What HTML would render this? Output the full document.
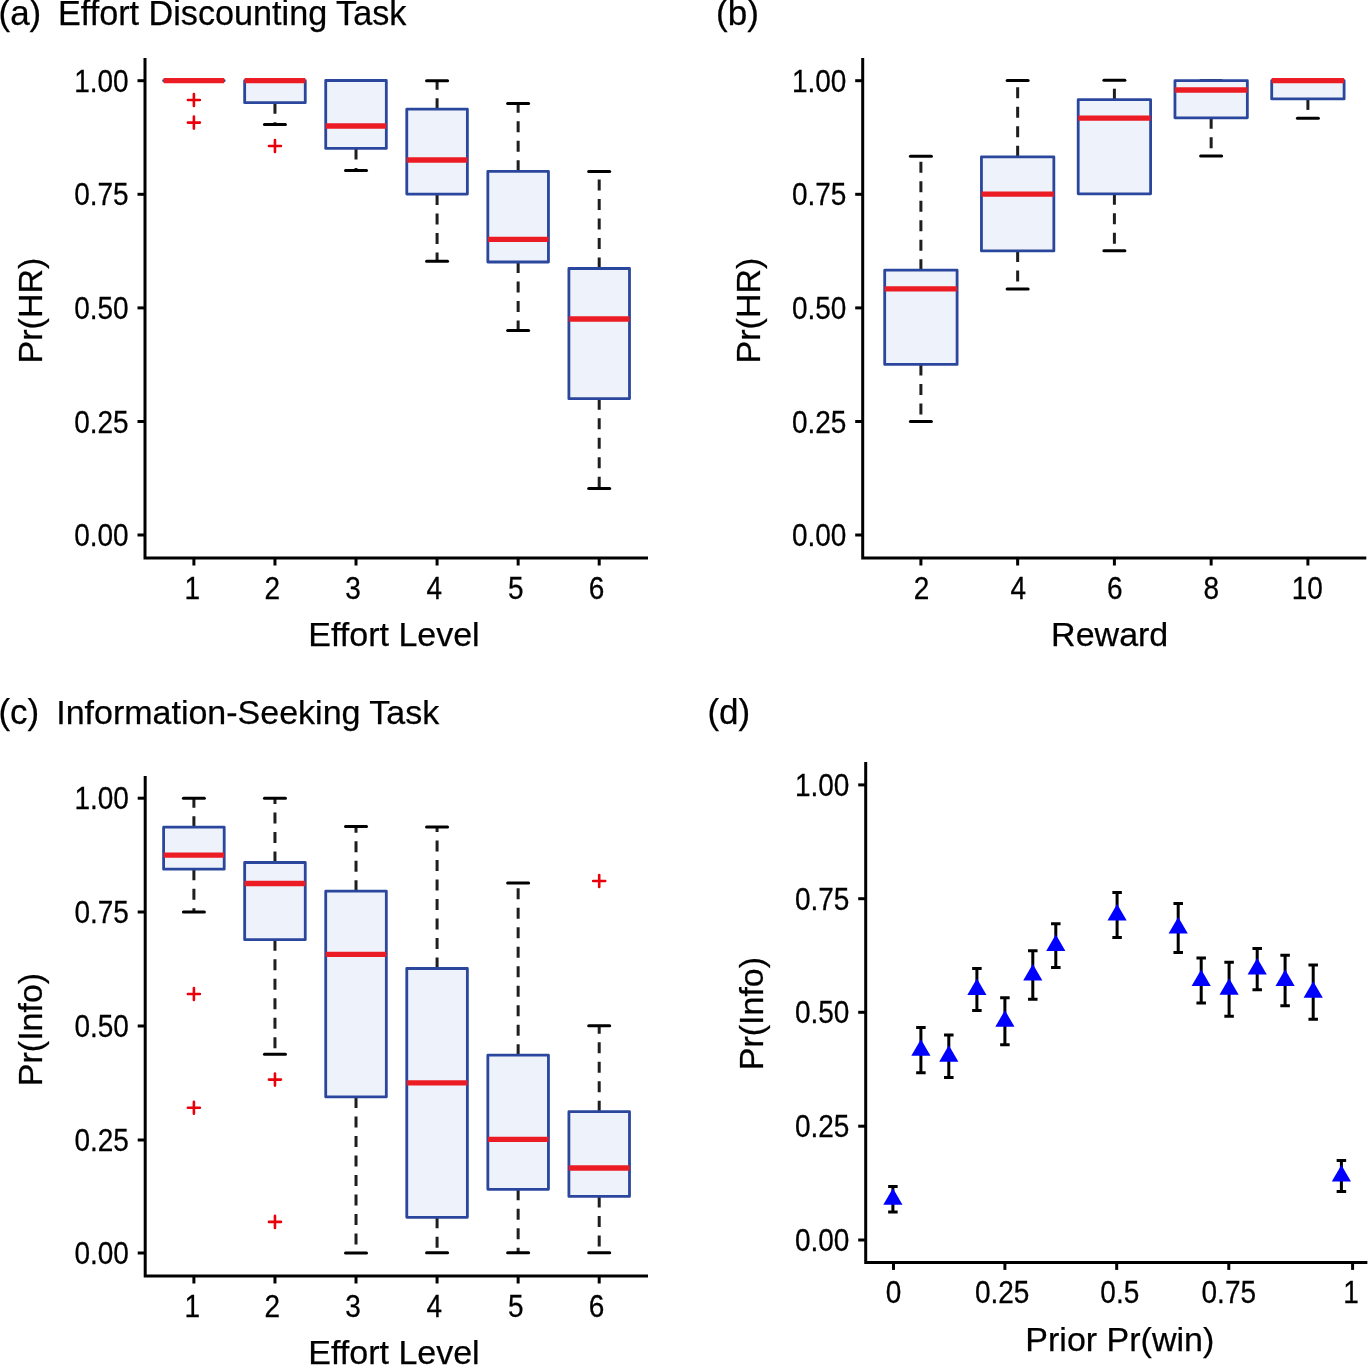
<!DOCTYPE html>
<html><head><meta charset="utf-8"><style>html,body{margin:0;-webkit-font-smoothing:antialiased;padding:0;background:#fff;}body{width:1369px;height:1365px;overflow:hidden;}</style></head>
<body>
<svg width="1369" height="1365" viewBox="0 0 1369 1365" font-family="Liberation Sans, sans-serif" style="display:block;-webkit-font-smoothing:antialiased;will-change:transform">
<rect width="1369" height="1365" fill="#fff"/>
<style>text{stroke:#000;stroke-width:0.25px}</style>
<path d="M145 58 V558 H648" fill="none" stroke="#000" stroke-width="3"/>
<line x1="137.5" y1="80.7" x2="145" y2="80.7" stroke="#000" stroke-width="3"/>
<line x1="137.5" y1="194.3" x2="145" y2="194.3" stroke="#000" stroke-width="3"/>
<line x1="137.5" y1="307.9" x2="145" y2="307.9" stroke="#000" stroke-width="3"/>
<line x1="137.5" y1="421.5" x2="145" y2="421.5" stroke="#000" stroke-width="3"/>
<line x1="137.5" y1="535" x2="145" y2="535" stroke="#000" stroke-width="3"/>
<line x1="193.9" y1="558" x2="193.9" y2="565.5" stroke="#000" stroke-width="3"/>
<line x1="274.96000000000004" y1="558" x2="274.96000000000004" y2="565.5" stroke="#000" stroke-width="3"/>
<line x1="356.02" y1="558" x2="356.02" y2="565.5" stroke="#000" stroke-width="3"/>
<line x1="437.08000000000004" y1="558" x2="437.08000000000004" y2="565.5" stroke="#000" stroke-width="3"/>
<line x1="518.14" y1="558" x2="518.14" y2="565.5" stroke="#000" stroke-width="3"/>
<line x1="599.2" y1="558" x2="599.2" y2="565.5" stroke="#000" stroke-width="3"/>
<text x="128.7" y="91.0" text-anchor="end" font-size="28" transform="translate(0 81.5) scale(1 1.09) translate(0 -81.5)">1.00</text>
<text x="128.7" y="204.60000000000002" text-anchor="end" font-size="28" transform="translate(0 195.10000000000002) scale(1 1.09) translate(0 -195.10000000000002)">0.75</text>
<text x="128.7" y="318.2" text-anchor="end" font-size="28" transform="translate(0 308.7) scale(1 1.09) translate(0 -308.7)">0.50</text>
<text x="128.7" y="431.8" text-anchor="end" font-size="28" transform="translate(0 422.3) scale(1 1.09) translate(0 -422.3)">0.25</text>
<text x="128.7" y="545.3" text-anchor="end" font-size="28" transform="translate(0 535.8) scale(1 1.09) translate(0 -535.8)">0.00</text>
<text x="192.4" y="598.1" text-anchor="middle" font-size="28" transform="translate(0 588.6) scale(1 1.09) translate(0 -588.6)">1</text>
<text x="272.26000000000005" y="598.1" text-anchor="middle" font-size="28" transform="translate(0 588.6) scale(1 1.09) translate(0 -588.6)">2</text>
<text x="353.02" y="598.1" text-anchor="middle" font-size="28" transform="translate(0 588.6) scale(1 1.09) translate(0 -588.6)">3</text>
<text x="434.38000000000005" y="598.1" text-anchor="middle" font-size="28" transform="translate(0 588.6) scale(1 1.09) translate(0 -588.6)">4</text>
<text x="515.84" y="598.1" text-anchor="middle" font-size="28" transform="translate(0 588.6) scale(1 1.09) translate(0 -588.6)">5</text>
<text x="596.5" y="598.1" text-anchor="middle" font-size="28" transform="translate(0 588.6) scale(1 1.09) translate(0 -588.6)">6</text>
<line x1="183.4" y1="80.7" x2="204.4" y2="80.7" stroke="#000" stroke-width="3" stroke-linecap="round"/>
<line x1="183.4" y1="80.7" x2="204.4" y2="80.7" stroke="#000" stroke-width="3" stroke-linecap="round"/>
<rect x="163.6" y="80.7" width="60.6" height="0.01" fill="#eef2fa" stroke="#2a479d" stroke-width="2.8" stroke-linejoin="round"/>
<line x1="163.6" y1="80.7" x2="224.20000000000002" y2="80.7" stroke="#ec1c24" stroke-width="5.3"/>
<path d="M187.9 100.06H199.9M193.9 94.06V106.06" stroke="#e8000b" stroke-width="2.6" stroke-linecap="round" fill="none"/>
<path d="M187.9 122.6H199.9M193.9 116.6V128.6" stroke="#e8000b" stroke-width="2.6" stroke-linecap="round" fill="none"/>
<line x1="274.96000000000004" y1="102.7" x2="274.96000000000004" y2="124.6" stroke="#1e1e1e" stroke-width="3" stroke-dasharray="11 8.5"/>
<line x1="264.46000000000004" y1="80.7" x2="285.46000000000004" y2="80.7" stroke="#000" stroke-width="3" stroke-linecap="round"/>
<line x1="264.46000000000004" y1="124.6" x2="285.46000000000004" y2="124.6" stroke="#000" stroke-width="3" stroke-linecap="round"/>
<rect x="244.66000000000003" y="80.7" width="60.6" height="22.0" fill="#eef2fa" stroke="#2a479d" stroke-width="2.8" stroke-linejoin="round"/>
<line x1="244.66000000000003" y1="80.7" x2="305.26000000000005" y2="80.7" stroke="#ec1c24" stroke-width="5.3"/>
<path d="M268.96000000000004 146H280.96000000000004M274.96000000000004 140V152" stroke="#e8000b" stroke-width="2.6" stroke-linecap="round" fill="none"/>
<line x1="356.02" y1="148.4" x2="356.02" y2="170.5" stroke="#1e1e1e" stroke-width="3" stroke-dasharray="11 8.5"/>
<line x1="345.52" y1="80.7" x2="366.52" y2="80.7" stroke="#000" stroke-width="3" stroke-linecap="round"/>
<line x1="345.52" y1="170.5" x2="366.52" y2="170.5" stroke="#000" stroke-width="3" stroke-linecap="round"/>
<rect x="325.71999999999997" y="80.5" width="60.6" height="67.9" fill="#eef2fa" stroke="#2a479d" stroke-width="2.8" stroke-linejoin="round"/>
<line x1="325.71999999999997" y1="126" x2="386.32" y2="126" stroke="#ec1c24" stroke-width="5.3"/>
<line x1="437.08000000000004" y1="194.1" x2="437.08000000000004" y2="261.2" stroke="#1e1e1e" stroke-width="3" stroke-dasharray="11 8.5"/>
<line x1="437.08000000000004" y1="109.2" x2="437.08000000000004" y2="80.7" stroke="#1e1e1e" stroke-width="3" stroke-dasharray="11 8.5"/>
<line x1="426.58000000000004" y1="80.7" x2="447.58000000000004" y2="80.7" stroke="#000" stroke-width="3" stroke-linecap="round"/>
<line x1="426.58000000000004" y1="261.2" x2="447.58000000000004" y2="261.2" stroke="#000" stroke-width="3" stroke-linecap="round"/>
<rect x="406.78000000000003" y="109.2" width="60.6" height="84.89999999999999" fill="#eef2fa" stroke="#2a479d" stroke-width="2.8" stroke-linejoin="round"/>
<line x1="406.78000000000003" y1="160" x2="467.38000000000005" y2="160" stroke="#ec1c24" stroke-width="5.3"/>
<line x1="518.14" y1="262" x2="518.14" y2="330.4" stroke="#1e1e1e" stroke-width="3" stroke-dasharray="11 8.5"/>
<line x1="518.14" y1="171.3" x2="518.14" y2="103.4" stroke="#1e1e1e" stroke-width="3" stroke-dasharray="11 8.5"/>
<line x1="507.64" y1="103.4" x2="528.64" y2="103.4" stroke="#000" stroke-width="3" stroke-linecap="round"/>
<line x1="507.64" y1="330.4" x2="528.64" y2="330.4" stroke="#000" stroke-width="3" stroke-linecap="round"/>
<rect x="487.84" y="171.3" width="60.6" height="90.69999999999999" fill="#eef2fa" stroke="#2a479d" stroke-width="2.8" stroke-linejoin="round"/>
<line x1="487.84" y1="239.4" x2="548.4399999999999" y2="239.4" stroke="#ec1c24" stroke-width="5.3"/>
<line x1="599.2" y1="398.7" x2="599.2" y2="488.5" stroke="#1e1e1e" stroke-width="3" stroke-dasharray="11 8.5"/>
<line x1="599.2" y1="268.5" x2="599.2" y2="171.4" stroke="#1e1e1e" stroke-width="3" stroke-dasharray="11 8.5"/>
<line x1="588.7" y1="171.4" x2="609.7" y2="171.4" stroke="#000" stroke-width="3" stroke-linecap="round"/>
<line x1="588.7" y1="488.5" x2="609.7" y2="488.5" stroke="#000" stroke-width="3" stroke-linecap="round"/>
<rect x="568.9000000000001" y="268.5" width="60.6" height="130.2" fill="#eef2fa" stroke="#2a479d" stroke-width="2.8" stroke-linejoin="round"/>
<line x1="568.9000000000001" y1="319" x2="629.5" y2="319" stroke="#ec1c24" stroke-width="5.3"/>
<text x="394" y="646" text-anchor="middle" font-size="34">Effort Level</text>
<text transform="translate(42.3,310.5) rotate(-90)" text-anchor="middle" font-size="34">Pr(HR)</text>
<text x="-1.5" y="25" font-size="35">(a)</text><text x="58" y="25" font-size="34.2">Effort Discounting Task</text>
<path d="M862.7 58 V558 H1366.3" fill="none" stroke="#000" stroke-width="3"/>
<line x1="855.2" y1="80.7" x2="862.7" y2="80.7" stroke="#000" stroke-width="3"/>
<line x1="855.2" y1="194.3" x2="862.7" y2="194.3" stroke="#000" stroke-width="3"/>
<line x1="855.2" y1="307.9" x2="862.7" y2="307.9" stroke="#000" stroke-width="3"/>
<line x1="855.2" y1="421.5" x2="862.7" y2="421.5" stroke="#000" stroke-width="3"/>
<line x1="855.2" y1="535" x2="862.7" y2="535" stroke="#000" stroke-width="3"/>
<line x1="920.9" y1="558" x2="920.9" y2="565.5" stroke="#000" stroke-width="3"/>
<line x1="1017.65" y1="558" x2="1017.65" y2="565.5" stroke="#000" stroke-width="3"/>
<line x1="1114.4" y1="558" x2="1114.4" y2="565.5" stroke="#000" stroke-width="3"/>
<line x1="1211.15" y1="558" x2="1211.15" y2="565.5" stroke="#000" stroke-width="3"/>
<line x1="1307.9" y1="558" x2="1307.9" y2="565.5" stroke="#000" stroke-width="3"/>
<text x="846.4000000000001" y="91.0" text-anchor="end" font-size="28" transform="translate(0 81.5) scale(1 1.09) translate(0 -81.5)">1.00</text>
<text x="846.4000000000001" y="204.60000000000002" text-anchor="end" font-size="28" transform="translate(0 195.10000000000002) scale(1 1.09) translate(0 -195.10000000000002)">0.75</text>
<text x="846.4000000000001" y="318.2" text-anchor="end" font-size="28" transform="translate(0 308.7) scale(1 1.09) translate(0 -308.7)">0.50</text>
<text x="846.4000000000001" y="431.8" text-anchor="end" font-size="28" transform="translate(0 422.3) scale(1 1.09) translate(0 -422.3)">0.25</text>
<text x="846.4000000000001" y="545.3" text-anchor="end" font-size="28" transform="translate(0 535.8) scale(1 1.09) translate(0 -535.8)">0.00</text>
<text x="921.5" y="598.1" text-anchor="middle" font-size="28" transform="translate(0 588.6) scale(1 1.09) translate(0 -588.6)">2</text>
<text x="1018.25" y="598.1" text-anchor="middle" font-size="28" transform="translate(0 588.6) scale(1 1.09) translate(0 -588.6)">4</text>
<text x="1114.7" y="598.1" text-anchor="middle" font-size="28" transform="translate(0 588.6) scale(1 1.09) translate(0 -588.6)">6</text>
<text x="1211.3500000000001" y="598.1" text-anchor="middle" font-size="28" transform="translate(0 588.6) scale(1 1.09) translate(0 -588.6)">8</text>
<text x="1307.3000000000002" y="598.1" text-anchor="middle" font-size="28" transform="translate(0 588.6) scale(1 1.09) translate(0 -588.6)">10</text>
<line x1="920.9" y1="364.4" x2="920.9" y2="421.5" stroke="#1e1e1e" stroke-width="3" stroke-dasharray="11 8.5"/>
<line x1="920.9" y1="270.2" x2="920.9" y2="156.2" stroke="#1e1e1e" stroke-width="3" stroke-dasharray="11 8.5"/>
<line x1="910.4" y1="156.2" x2="931.4" y2="156.2" stroke="#000" stroke-width="3" stroke-linecap="round"/>
<line x1="910.4" y1="421.5" x2="931.4" y2="421.5" stroke="#000" stroke-width="3" stroke-linecap="round"/>
<rect x="884.6999999999999" y="270.2" width="72.4" height="94.19999999999999" fill="#eef2fa" stroke="#2a479d" stroke-width="2.8" stroke-linejoin="round"/>
<line x1="884.6999999999999" y1="288.9" x2="957.1" y2="288.9" stroke="#ec1c24" stroke-width="5.3"/>
<line x1="1017.65" y1="250.9" x2="1017.65" y2="288.9" stroke="#1e1e1e" stroke-width="3" stroke-dasharray="11 8.5"/>
<line x1="1017.65" y1="156.8" x2="1017.65" y2="80.4" stroke="#1e1e1e" stroke-width="3" stroke-dasharray="11 8.5"/>
<line x1="1007.15" y1="80.4" x2="1028.15" y2="80.4" stroke="#000" stroke-width="3" stroke-linecap="round"/>
<line x1="1007.15" y1="288.9" x2="1028.15" y2="288.9" stroke="#000" stroke-width="3" stroke-linecap="round"/>
<rect x="981.4499999999999" y="156.8" width="72.4" height="94.1" fill="#eef2fa" stroke="#2a479d" stroke-width="2.8" stroke-linejoin="round"/>
<line x1="981.4499999999999" y1="194.2" x2="1053.85" y2="194.2" stroke="#ec1c24" stroke-width="5.3"/>
<line x1="1114.4" y1="193.8" x2="1114.4" y2="250.7" stroke="#1e1e1e" stroke-width="3" stroke-dasharray="11 8.5"/>
<line x1="1114.4" y1="99.7" x2="1114.4" y2="80.3" stroke="#1e1e1e" stroke-width="3" stroke-dasharray="11 8.5"/>
<line x1="1103.9" y1="80.3" x2="1124.9" y2="80.3" stroke="#000" stroke-width="3" stroke-linecap="round"/>
<line x1="1103.9" y1="250.7" x2="1124.9" y2="250.7" stroke="#000" stroke-width="3" stroke-linecap="round"/>
<rect x="1078.2" y="99.7" width="72.4" height="94.10000000000001" fill="#eef2fa" stroke="#2a479d" stroke-width="2.8" stroke-linejoin="round"/>
<line x1="1078.2" y1="118.2" x2="1150.6000000000001" y2="118.2" stroke="#ec1c24" stroke-width="5.3"/>
<line x1="1211.15" y1="117.8" x2="1211.15" y2="155.9" stroke="#1e1e1e" stroke-width="3" stroke-dasharray="11 8.5"/>
<line x1="1200.65" y1="80.7" x2="1221.65" y2="80.7" stroke="#000" stroke-width="3" stroke-linecap="round"/>
<line x1="1200.65" y1="155.9" x2="1221.65" y2="155.9" stroke="#000" stroke-width="3" stroke-linecap="round"/>
<rect x="1174.95" y="80.7" width="72.4" height="37.099999999999994" fill="#eef2fa" stroke="#2a479d" stroke-width="2.8" stroke-linejoin="round"/>
<line x1="1174.95" y1="90" x2="1247.3500000000001" y2="90" stroke="#ec1c24" stroke-width="5.3"/>
<line x1="1307.9" y1="98.9" x2="1307.9" y2="118.2" stroke="#1e1e1e" stroke-width="3" stroke-dasharray="11 8.5"/>
<line x1="1297.4" y1="80.7" x2="1318.4" y2="80.7" stroke="#000" stroke-width="3" stroke-linecap="round"/>
<line x1="1297.4" y1="118.2" x2="1318.4" y2="118.2" stroke="#000" stroke-width="3" stroke-linecap="round"/>
<rect x="1271.7" y="80.7" width="72.4" height="18.200000000000003" fill="#eef2fa" stroke="#2a479d" stroke-width="2.8" stroke-linejoin="round"/>
<line x1="1271.7" y1="80.7" x2="1344.1000000000001" y2="80.7" stroke="#ec1c24" stroke-width="5.3"/>
<text x="1109.7" y="646" text-anchor="middle" font-size="34">Reward</text>
<text transform="translate(760,310.5) rotate(-90)" text-anchor="middle" font-size="34">Pr(HR)</text>
<text x="716.1" y="25.2" font-size="35">(b)</text>
<path d="M145.2 776 V1276 H648" fill="none" stroke="#000" stroke-width="3"/>
<line x1="137.7" y1="798.2" x2="145.2" y2="798.2" stroke="#000" stroke-width="3"/>
<line x1="137.7" y1="912" x2="145.2" y2="912" stroke="#000" stroke-width="3"/>
<line x1="137.7" y1="1026" x2="145.2" y2="1026" stroke="#000" stroke-width="3"/>
<line x1="137.7" y1="1140" x2="145.2" y2="1140" stroke="#000" stroke-width="3"/>
<line x1="137.7" y1="1253" x2="145.2" y2="1253" stroke="#000" stroke-width="3"/>
<line x1="193.9" y1="1276" x2="193.9" y2="1283.5" stroke="#000" stroke-width="3"/>
<line x1="274.96000000000004" y1="1276" x2="274.96000000000004" y2="1283.5" stroke="#000" stroke-width="3"/>
<line x1="356.02" y1="1276" x2="356.02" y2="1283.5" stroke="#000" stroke-width="3"/>
<line x1="437.08000000000004" y1="1276" x2="437.08000000000004" y2="1283.5" stroke="#000" stroke-width="3"/>
<line x1="518.14" y1="1276" x2="518.14" y2="1283.5" stroke="#000" stroke-width="3"/>
<line x1="599.2" y1="1276" x2="599.2" y2="1283.5" stroke="#000" stroke-width="3"/>
<text x="128.89999999999998" y="808.5" text-anchor="end" font-size="28" transform="translate(0 799.0) scale(1 1.09) translate(0 -799.0)">1.00</text>
<text x="128.89999999999998" y="922.3" text-anchor="end" font-size="28" transform="translate(0 912.8) scale(1 1.09) translate(0 -912.8)">0.75</text>
<text x="128.89999999999998" y="1036.3" text-anchor="end" font-size="28" transform="translate(0 1026.8) scale(1 1.09) translate(0 -1026.8)">0.50</text>
<text x="128.89999999999998" y="1150.3" text-anchor="end" font-size="28" transform="translate(0 1140.8) scale(1 1.09) translate(0 -1140.8)">0.25</text>
<text x="128.89999999999998" y="1263.3" text-anchor="end" font-size="28" transform="translate(0 1253.8) scale(1 1.09) translate(0 -1253.8)">0.00</text>
<text x="192.4" y="1316.1" text-anchor="middle" font-size="28" transform="translate(0 1306.6) scale(1 1.09) translate(0 -1306.6)">1</text>
<text x="272.26000000000005" y="1316.1" text-anchor="middle" font-size="28" transform="translate(0 1306.6) scale(1 1.09) translate(0 -1306.6)">2</text>
<text x="353.02" y="1316.1" text-anchor="middle" font-size="28" transform="translate(0 1306.6) scale(1 1.09) translate(0 -1306.6)">3</text>
<text x="434.38000000000005" y="1316.1" text-anchor="middle" font-size="28" transform="translate(0 1306.6) scale(1 1.09) translate(0 -1306.6)">4</text>
<text x="515.84" y="1316.1" text-anchor="middle" font-size="28" transform="translate(0 1306.6) scale(1 1.09) translate(0 -1306.6)">5</text>
<text x="596.5" y="1316.1" text-anchor="middle" font-size="28" transform="translate(0 1306.6) scale(1 1.09) translate(0 -1306.6)">6</text>
<line x1="193.9" y1="869.2" x2="193.9" y2="912" stroke="#1e1e1e" stroke-width="3" stroke-dasharray="11 8.5"/>
<line x1="193.9" y1="827.2" x2="193.9" y2="798.2" stroke="#1e1e1e" stroke-width="3" stroke-dasharray="11 8.5"/>
<line x1="183.4" y1="798.2" x2="204.4" y2="798.2" stroke="#000" stroke-width="3" stroke-linecap="round"/>
<line x1="183.4" y1="912" x2="204.4" y2="912" stroke="#000" stroke-width="3" stroke-linecap="round"/>
<rect x="163.6" y="827.2" width="60.6" height="42.0" fill="#eef2fa" stroke="#2a479d" stroke-width="2.8" stroke-linejoin="round"/>
<line x1="163.6" y1="855.1" x2="224.20000000000002" y2="855.1" stroke="#ec1c24" stroke-width="5.3"/>
<path d="M187.9 994H199.9M193.9 988V1000" stroke="#e8000b" stroke-width="2.6" stroke-linecap="round" fill="none"/>
<path d="M187.9 1107.7H199.9M193.9 1101.7V1113.7" stroke="#e8000b" stroke-width="2.6" stroke-linecap="round" fill="none"/>
<line x1="274.96000000000004" y1="939.7" x2="274.96000000000004" y2="1054.3" stroke="#1e1e1e" stroke-width="3" stroke-dasharray="11 8.5"/>
<line x1="274.96000000000004" y1="862.5" x2="274.96000000000004" y2="798.2" stroke="#1e1e1e" stroke-width="3" stroke-dasharray="11 8.5"/>
<line x1="264.46000000000004" y1="798.2" x2="285.46000000000004" y2="798.2" stroke="#000" stroke-width="3" stroke-linecap="round"/>
<line x1="264.46000000000004" y1="1054.3" x2="285.46000000000004" y2="1054.3" stroke="#000" stroke-width="3" stroke-linecap="round"/>
<rect x="244.66000000000003" y="862.5" width="60.6" height="77.20000000000005" fill="#eef2fa" stroke="#2a479d" stroke-width="2.8" stroke-linejoin="round"/>
<line x1="244.66000000000003" y1="883.5" x2="305.26000000000005" y2="883.5" stroke="#ec1c24" stroke-width="5.3"/>
<path d="M268.96000000000004 1079.6H280.96000000000004M274.96000000000004 1073.6V1085.6" stroke="#e8000b" stroke-width="2.6" stroke-linecap="round" fill="none"/>
<path d="M268.96000000000004 1221.9H280.96000000000004M274.96000000000004 1215.9V1227.9" stroke="#e8000b" stroke-width="2.6" stroke-linecap="round" fill="none"/>
<line x1="356.02" y1="1096.9" x2="356.02" y2="1253" stroke="#1e1e1e" stroke-width="3" stroke-dasharray="11 8.5"/>
<line x1="356.02" y1="891.2" x2="356.02" y2="826.5" stroke="#1e1e1e" stroke-width="3" stroke-dasharray="11 8.5"/>
<line x1="345.52" y1="826.5" x2="366.52" y2="826.5" stroke="#000" stroke-width="3" stroke-linecap="round"/>
<line x1="345.52" y1="1253" x2="366.52" y2="1253" stroke="#000" stroke-width="3" stroke-linecap="round"/>
<rect x="325.71999999999997" y="891.2" width="60.6" height="205.70000000000005" fill="#eef2fa" stroke="#2a479d" stroke-width="2.8" stroke-linejoin="round"/>
<line x1="325.71999999999997" y1="954.3" x2="386.32" y2="954.3" stroke="#ec1c24" stroke-width="5.3"/>
<line x1="437.08000000000004" y1="1217.3" x2="437.08000000000004" y2="1252.8" stroke="#1e1e1e" stroke-width="3" stroke-dasharray="11 8.5"/>
<line x1="437.08000000000004" y1="968.5" x2="437.08000000000004" y2="827" stroke="#1e1e1e" stroke-width="3" stroke-dasharray="11 8.5"/>
<line x1="426.58000000000004" y1="827" x2="447.58000000000004" y2="827" stroke="#000" stroke-width="3" stroke-linecap="round"/>
<line x1="426.58000000000004" y1="1252.8" x2="447.58000000000004" y2="1252.8" stroke="#000" stroke-width="3" stroke-linecap="round"/>
<rect x="406.78000000000003" y="968.5" width="60.6" height="248.79999999999995" fill="#eef2fa" stroke="#2a479d" stroke-width="2.8" stroke-linejoin="round"/>
<line x1="406.78000000000003" y1="1082.9" x2="467.38000000000005" y2="1082.9" stroke="#ec1c24" stroke-width="5.3"/>
<line x1="518.14" y1="1189.3" x2="518.14" y2="1252.8" stroke="#1e1e1e" stroke-width="3" stroke-dasharray="11 8.5"/>
<line x1="518.14" y1="1055.2" x2="518.14" y2="883" stroke="#1e1e1e" stroke-width="3" stroke-dasharray="11 8.5"/>
<line x1="507.64" y1="883" x2="528.64" y2="883" stroke="#000" stroke-width="3" stroke-linecap="round"/>
<line x1="507.64" y1="1252.8" x2="528.64" y2="1252.8" stroke="#000" stroke-width="3" stroke-linecap="round"/>
<rect x="487.84" y="1055.2" width="60.6" height="134.0999999999999" fill="#eef2fa" stroke="#2a479d" stroke-width="2.8" stroke-linejoin="round"/>
<line x1="487.84" y1="1139.4" x2="548.4399999999999" y2="1139.4" stroke="#ec1c24" stroke-width="5.3"/>
<line x1="599.2" y1="1196.4" x2="599.2" y2="1252.8" stroke="#1e1e1e" stroke-width="3" stroke-dasharray="11 8.5"/>
<line x1="599.2" y1="1111.7" x2="599.2" y2="1025.7" stroke="#1e1e1e" stroke-width="3" stroke-dasharray="11 8.5"/>
<line x1="588.7" y1="1025.7" x2="609.7" y2="1025.7" stroke="#000" stroke-width="3" stroke-linecap="round"/>
<line x1="588.7" y1="1252.8" x2="609.7" y2="1252.8" stroke="#000" stroke-width="3" stroke-linecap="round"/>
<rect x="568.9000000000001" y="1111.7" width="60.6" height="84.70000000000005" fill="#eef2fa" stroke="#2a479d" stroke-width="2.8" stroke-linejoin="round"/>
<line x1="568.9000000000001" y1="1168" x2="629.5" y2="1168" stroke="#ec1c24" stroke-width="5.3"/>
<path d="M593.2 881H605.2M599.2 875V887" stroke="#e8000b" stroke-width="2.6" stroke-linecap="round" fill="none"/>
<text x="394" y="1364" text-anchor="middle" font-size="34">Effort Level</text>
<text transform="translate(42,1029.5) rotate(-90)" text-anchor="middle" font-size="34">Pr(Info)</text>
<text x="-1.6" y="723.6" font-size="35">(c)</text><text x="56.2" y="723.6" font-size="34">Information-Seeking Task</text>
<path d="M865.7 762 V1262.4 H1367.4" fill="none" stroke="#000" stroke-width="3"/>
<line x1="858.2" y1="784.9" x2="865.7" y2="784.9" stroke="#000" stroke-width="3"/>
<line x1="858.2" y1="898.7" x2="865.7" y2="898.7" stroke="#000" stroke-width="3"/>
<line x1="858.2" y1="1012.3" x2="865.7" y2="1012.3" stroke="#000" stroke-width="3"/>
<line x1="858.2" y1="1126.2" x2="865.7" y2="1126.2" stroke="#000" stroke-width="3"/>
<line x1="858.2" y1="1240" x2="865.7" y2="1240" stroke="#000" stroke-width="3"/>
<line x1="893.5" y1="1262.4" x2="893.5" y2="1269.9" stroke="#000" stroke-width="3"/>
<line x1="1004.9" y1="1262.4" x2="1004.9" y2="1269.9" stroke="#000" stroke-width="3"/>
<line x1="1116.7" y1="1262.4" x2="1116.7" y2="1269.9" stroke="#000" stroke-width="3"/>
<line x1="1228.8" y1="1262.4" x2="1228.8" y2="1269.9" stroke="#000" stroke-width="3"/>
<line x1="1352.6" y1="1262.4" x2="1352.6" y2="1269.9" stroke="#000" stroke-width="3"/>
<text x="849.4000000000001" y="795.1999999999999" text-anchor="end" font-size="28" transform="translate(0 785.6999999999999) scale(1 1.09) translate(0 -785.6999999999999)">1.00</text>
<text x="849.4000000000001" y="909.0" text-anchor="end" font-size="28" transform="translate(0 899.5) scale(1 1.09) translate(0 -899.5)">0.75</text>
<text x="849.4000000000001" y="1022.5999999999999" text-anchor="end" font-size="28" transform="translate(0 1013.0999999999999) scale(1 1.09) translate(0 -1013.0999999999999)">0.50</text>
<text x="849.4000000000001" y="1136.5" text-anchor="end" font-size="28" transform="translate(0 1127.0) scale(1 1.09) translate(0 -1127.0)">0.25</text>
<text x="849.4000000000001" y="1250.3" text-anchor="end" font-size="28" transform="translate(0 1240.8) scale(1 1.09) translate(0 -1240.8)">0.00</text>
<text x="893.5" y="1302.5" text-anchor="middle" font-size="28" transform="translate(0 1293.0) scale(1 1.09) translate(0 -1293.0)">0</text>
<text x="1002.1999999999999" y="1302.5" text-anchor="middle" font-size="28" transform="translate(0 1293.0) scale(1 1.09) translate(0 -1293.0)">0.25</text>
<text x="1119.8" y="1302.5" text-anchor="middle" font-size="28" transform="translate(0 1293.0) scale(1 1.09) translate(0 -1293.0)">0.5</text>
<text x="1228.8" y="1302.5" text-anchor="middle" font-size="28" transform="translate(0 1293.0) scale(1 1.09) translate(0 -1293.0)">0.75</text>
<text x="1351.0" y="1302.5" text-anchor="middle" font-size="28" transform="translate(0 1293.0) scale(1 1.09) translate(0 -1293.0)">1</text>
<path d="M892.9 1186.5V1212M888.15 1186.5H897.65M888.15 1212H897.65" stroke="#000" stroke-width="3" fill="none"/>
<path d="M892.9 1188.25L902.5 1204.75H883.3Z" fill="#0000ff"/>
<path d="M920.9 1027.6V1072.8M916.15 1027.6H925.65M916.15 1072.8H925.65" stroke="#000" stroke-width="3" fill="none"/>
<path d="M920.9 1039.1999999999998L930.5 1055.6999999999998H911.3Z" fill="#0000ff"/>
<path d="M948.8 1034.9V1077.6M944.05 1034.9H953.55M944.05 1077.6H953.55" stroke="#000" stroke-width="3" fill="none"/>
<path d="M948.8 1045.25L958.4 1061.75H939.1999999999999Z" fill="#0000ff"/>
<path d="M976.9 968.4V1010.5M972.15 968.4H981.65M972.15 1010.5H981.65" stroke="#000" stroke-width="3" fill="none"/>
<path d="M976.9 978.45L986.5 994.95H967.3Z" fill="#0000ff"/>
<path d="M1004.9 997.8V1044.7M1000.15 997.8H1009.65M1000.15 1044.7H1009.65" stroke="#000" stroke-width="3" fill="none"/>
<path d="M1004.9 1010.25L1014.5 1026.75H995.3Z" fill="#0000ff"/>
<path d="M1032.8 950.7V999.2M1028.05 950.7H1037.55M1028.05 999.2H1037.55" stroke="#000" stroke-width="3" fill="none"/>
<path d="M1032.8 963.95L1042.3999999999999 980.45H1023.1999999999999Z" fill="#0000ff"/>
<path d="M1055.8 923.8V967.4M1051.05 923.8H1060.55M1051.05 967.4H1060.55" stroke="#000" stroke-width="3" fill="none"/>
<path d="M1055.8 934.5999999999999L1065.3999999999999 951.0999999999999H1046.2Z" fill="#0000ff"/>
<path d="M1117.1 892.4V937.6M1112.35 892.4H1121.85M1112.35 937.6H1121.85" stroke="#000" stroke-width="3" fill="none"/>
<path d="M1117.1 904.0L1126.6999999999998 920.5H1107.5Z" fill="#0000ff"/>
<path d="M1178.2 903.6V952.4M1173.45 903.6H1182.95M1173.45 952.4H1182.95" stroke="#000" stroke-width="3" fill="none"/>
<path d="M1178.2 917.0L1187.8 933.5H1168.6000000000001Z" fill="#0000ff"/>
<path d="M1201.2 957.9V1003.1M1196.45 957.9H1205.95M1196.45 1003.1H1205.95" stroke="#000" stroke-width="3" fill="none"/>
<path d="M1201.2 969.5L1210.8 986.0H1191.6000000000001Z" fill="#0000ff"/>
<path d="M1229.1 962.2V1016.2M1224.35 962.2H1233.85M1224.35 1016.2H1233.85" stroke="#000" stroke-width="3" fill="none"/>
<path d="M1229.1 978.2L1238.6999999999998 994.7H1219.5Z" fill="#0000ff"/>
<path d="M1257.2 948.4V989.7M1252.45 948.4H1261.95M1252.45 989.7H1261.95" stroke="#000" stroke-width="3" fill="none"/>
<path d="M1257.2 958.05L1266.8 974.55H1247.6000000000001Z" fill="#0000ff"/>
<path d="M1285.1 955.3V1005.8M1280.35 955.3H1289.85M1280.35 1005.8H1289.85" stroke="#000" stroke-width="3" fill="none"/>
<path d="M1285.1 969.55L1294.6999999999998 986.05H1275.5Z" fill="#0000ff"/>
<path d="M1313.2 965.1V1019.2M1308.45 965.1H1317.95M1308.45 1019.2H1317.95" stroke="#000" stroke-width="3" fill="none"/>
<path d="M1313.2 981.1500000000001L1322.8 997.6500000000001H1303.6000000000001Z" fill="#0000ff"/>
<path d="M1341.4 1160.4V1191.6M1336.65 1160.4H1346.15M1336.65 1191.6H1346.15" stroke="#000" stroke-width="3" fill="none"/>
<path d="M1341.4 1165.0L1351.0 1181.5H1331.8000000000002Z" fill="#0000ff"/>
<text x="1119.8" y="1350.8" text-anchor="middle" font-size="34">Prior Pr(win)</text>
<text transform="translate(762.6,1013.6) rotate(-90)" text-anchor="middle" font-size="34">Pr(Info)</text>
<text x="707.4" y="723.6" font-size="35">(d)</text>
</svg>
</body></html>
